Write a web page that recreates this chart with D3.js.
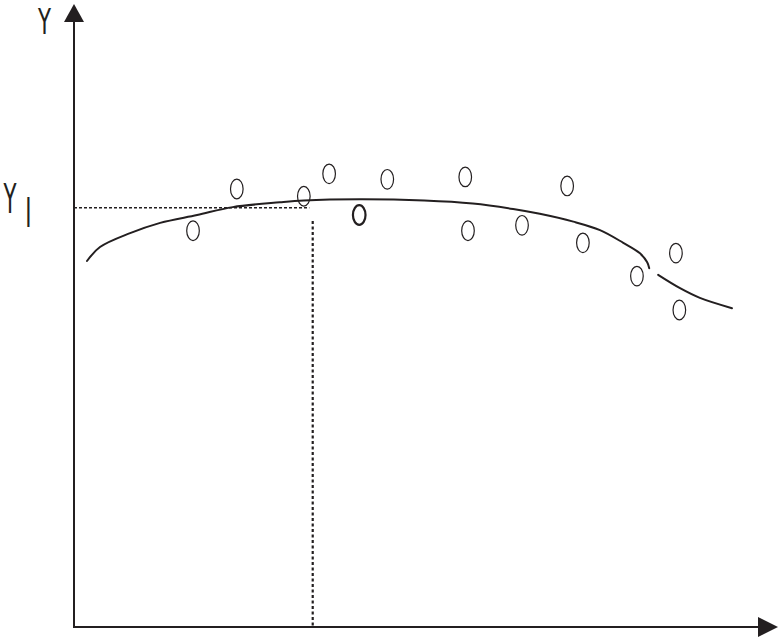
<!DOCTYPE html>
<html>
<head>
<meta charset="utf-8">
<script src="https://cdn.jsdelivr.net/npm/d3@7/dist/d3.min.js"></script>
<style>
  html, body { margin: 0; padding: 0; background: #fff; }
  svg { display: block; }
</style>
</head>
<body>
<script>
// ---- data (in arbitrary chart units 0..100) ----
const pointX = [23.8, 17.4, 33.6, 37.3, 41.7, 45.8, 57.2, 57.6, 65.5, 72.1, 74.4, 82.3, 88.0, 88.5];
const pointY = [72.4, 65.5, 71.2, 74.9, 68.1, 74.0, 74.4, 65.5, 66.4, 72.9, 63.5, 58.0, 61.8, 52.4];
const boldPoint = [false, false, false, false, true, false, false, false, false, false, false, false, false, false];

const curve1X = [1.9, 3.8, 8.2, 12.6, 18.0, 23.2, 30.1, 33.6, 41.8, 51.2, 58.3, 64.2, 68.1, 73.0, 76.9, 80.3, 82.7, 83.8, 84.1];
const curve1Y = [60.5, 62.8, 65.1, 66.8, 68.1, 69.4, 70.2, 70.5, 70.7, 70.5, 70.0, 69.1, 68.3, 67.0, 65.6, 63.5, 61.8, 60.3, 59.3];
const curve2X = [85.4, 88.6, 91.5, 96.2];
const curve2Y = [58.2, 56.0, 54.4, 52.7];

const refY = 69.3;      // Y_I level
const refXEnd = 34.4;   // end of horizontal dashed guide
const refX = 34.9;      // vertical dotted guide
const refYTop = 67.1;   // top of vertical dotted guide

const axisLabelY = "Y";
const refLabelMain = "Y";
const refLabelSub = "I";

// ---- drawing ----
const W = 781, H = 640;
const svg = d3.select("body").append("svg").attr("width", W).attr("height", H);

const x = d3.scaleLinear().domain([0, 100]).range([74, 758]);
const y = d3.scaleLinear().domain([0, 100]).range([627, 22]);

const ink = "#231f20";

// axes
svg.append("line").attr("x1", x(0)).attr("x2", x(100)).attr("y1", y(0)).attr("y2", y(0))
  .attr("stroke", ink).attr("stroke-width", 2);
svg.append("line").attr("x1", x(0)).attr("x2", x(0)).attr("y1", y(0) + 1).attr("y2", y(100))
  .attr("stroke", ink).attr("stroke-width", 2);
// arrow heads
svg.append("path")
  .attr("d", `M${x(100)},${y(0) - 10} L${x(100) + 20},${y(0)} L${x(100)},${y(0) + 10} Z`)
  .attr("fill", ink);
svg.append("path")
  .attr("d", `M${x(0) - 10},${y(100)} L${x(0)},${y(100) - 18} L${x(0) + 10},${y(100)} Z`)
  .attr("fill", ink);

// guide lines
svg.append("line").attr("x1", x(0)).attr("x2", x(refXEnd)).attr("y1", y(refY)).attr("y2", y(refY))
  .attr("stroke", ink).attr("stroke-width", 1.3).attr("stroke-dasharray", "3,2");
svg.append("line").attr("x1", x(refX)).attr("x2", x(refX)).attr("y1", y(refYTop)).attr("y2", y(0))
  .attr("stroke", ink).attr("stroke-width", 2.2).attr("stroke-dasharray", "3,2.5");

// fitted curve
const line = d3.line().x(d => x(d[0])).y(d => y(d[1])).curve(d3.curveCatmullRom.alpha(0.5));
const c1 = curve1X.map((v, i) => [v, curve1Y[i]]);
const c2 = curve2X.map((v, i) => [v, curve2Y[i]]);
[c1, c2].forEach(c => {
  svg.append("path").attr("d", line(c)).attr("fill", "none")
    .attr("stroke", ink).attr("stroke-width", 2).attr("stroke-linecap", "round");
});

// observed points (open ellipses)
const pts = pointX.map((v, i) => ({ x: v, y: pointY[i], b: boldPoint[i] }));
svg.selectAll("ellipse.pt").data(pts).enter().append("ellipse")
  .attr("class", "pt")
  .attr("cx", d => x(d.x)).attr("cy", d => y(d.y))
  .attr("rx", 6.3).attr("ry", 9.8)
  .attr("fill", "none").attr("stroke", ink)
  .attr("stroke-width", d => d.b ? 2.2 : 1.2);

// labels (tall, narrow lettering)
const font = "DejaVu Sans, sans-serif";
function label(txt, cx, baseline, fs, sx) {
  svg.append("text")
    .attr("transform", `translate(${cx},${baseline}) scale(${sx},1)`)
    .attr("text-anchor", "middle")
    .attr("font-family", font).attr("font-size", fs)
    .attr("fill", ink)
    .text(txt);
}
label(axisLabelY, 44.5, 34, 36, 0.59);
label(refLabelMain, 10, 213, 41, 0.52);
label(refLabelSub, 28.5, 227, 41, 0.52);
</script>
</body>
</html>
